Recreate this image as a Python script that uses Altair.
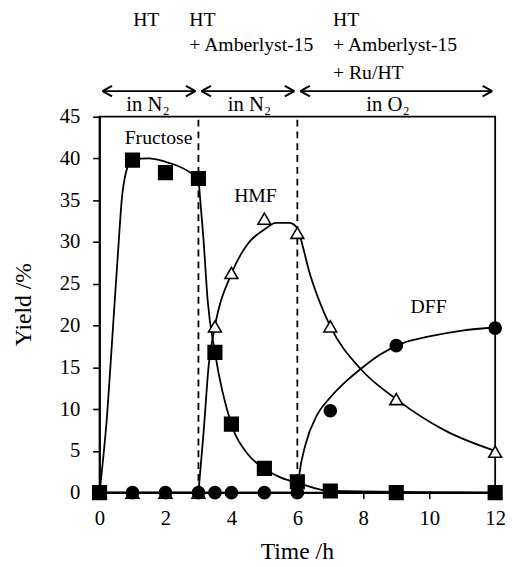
import altair as alt
import pandas as pd

FONT = "Liberation Serif"

# ---- measured points ----
time_h = [0, 1, 2, 3, 3.5, 4, 5, 6, 7, 9, 12]
fructose = [0, 39.8, 38.3, 37.6, 16.8, 8.2, 2.9, 1.3, 0.2, 0, 0]
hmf = [0, 0, 0, 0, 19.9, 26.3, 32.8, 31.1, 19.9, 11.2, 4.9]
dff = [0, 0, 0, 0, 0, 0, 0, 0, 9.8, 17.6, 19.7]

# ---- fitted curves as drawn ----
fru_a_t = [0, 0.23, 0.41, 0.58, 0.67, 0.8, 1.0, 1.5, 2.0, 2.5, 3.0]
fru_a_y = [0, 9.3, 19.9, 29.9, 34.9, 38.3, 39.9, 40.0, 39.6, 38.9, 37.7]
fru_b_t = [3.0, 3.15, 3.28, 3.5, 4.0, 4.5, 5.0, 5.5, 6.0, 7.0, 12.0]
fru_b_y = [37.7, 30.5, 23.0, 16.8, 8.2, 4.6, 2.9, 1.8, 1.2, 0.2, 0]
hmf_a_t = [0, 3]
hmf_a_y = [0, 0]
hmf_b_t = [3, 3.16, 3.31, 3.5, 4, 4.5, 5, 5.35, 5.75, 6, 6.15, 6.35, 6.65, 7, 7.92, 9, 10.5, 12]
hmf_b_y = [0, 7.4, 15.2, 19.9, 26.2, 29.8, 31.5, 32.3, 32.3, 31.7, 29.7, 26.6, 23.1, 19.9, 14.8, 11.2, 7.4, 5.0]
dff_a_t = [0, 6]
dff_a_y = [0, 0]
dff_b_t = [6, 6.05, 6.25, 6.6, 7, 7.5, 7.92, 8.5, 9.2, 10, 11, 12]
dff_b_y = [0, 1.9, 5.8, 9.3, 11.4, 13.4, 14.8, 16.5, 17.9, 18.7, 19.4, 19.8]

# ---- phases ----
phase_start = [0, 3, 6]
phase_end = [3, 6, 12]
phase_gas = ["in N₂", "in N₂", "in O₂"]
phase_gas_x = [1.47, 4.55, 8.75]
dashed_x = [3, 6]
x_tick_values = list(range(0, 13))
y_tick_values = list(range(0, 50, 5))

# ---- tables ----
pts = pd.concat([
    pd.DataFrame({"t": time_h, "y": hmf, "s": "HMF"}),
    pd.DataFrame({"t": time_h, "y": dff, "s": "DFF"}),
    pd.DataFrame({"t": time_h, "y": fructose, "s": "Fructose"}),
], ignore_index=True)
pts["o"] = range(len(pts))

curves = pd.concat([
    pd.DataFrame({"t": fru_a_t, "y": fru_a_y, "seg": "fa"}),
    pd.DataFrame({"t": fru_b_t, "y": fru_b_y, "seg": "fb"}),
    pd.DataFrame({"t": hmf_a_t, "y": hmf_a_y, "seg": "ha"}),
    pd.DataFrame({"t": hmf_b_t, "y": hmf_b_y, "seg": "hb"}),
    pd.DataFrame({"t": dff_a_t, "y": dff_a_y, "seg": "da"}),
    pd.DataFrame({"t": dff_b_t, "y": dff_b_y, "seg": "db"}),
], ignore_index=True)

phases = pd.DataFrame({"start": phase_start, "end": phase_end,
                       "gas": phase_gas, "gx": phase_gas_x})
dashes = pd.DataFrame({"t": dashed_x})
one = pd.DataFrame({"k": [0]})

xscale = alt.Scale(domain=[0, 12], nice=False)
yscale = alt.Scale(domain=[0, 45], nice=False)

X = alt.X("t:Q", scale=xscale, axis=alt.Axis(
    values=x_tick_values, title=None, labelExpr="datum.value % 2 == 0 ? datum.label : ''",
    tickSize=6, labelPadding=9, labelFlush=False, labelOverlap=False, labelFontSize=21))
Y = alt.Y("y:Q", scale=yscale, axis=alt.Axis(
    values=y_tick_values, title=None, tickSize=7, labelPadding=13,
    labelFontSize=21, labelFlush=False))

lines = alt.Chart(curves).mark_line(color="black", strokeWidth=1.8, interpolate="monotone").encode(
    x=X, y=Y, detail="seg:N", order="t:Q")

dash = alt.Chart(dashes).mark_rule(color="black", strokeWidth=1.8, strokeDash=[7, 5]).encode(
    x=alt.X("t:Q", scale=xscale), y=alt.datum(0), y2=alt.datum(45))

points = alt.Chart(pts).mark_point(filled=False, opacity=1, strokeWidth=1.6, stroke="black").encode(
    x=alt.X("t:Q", scale=xscale), y=alt.Y("y:Q", scale=yscale),
    shape=alt.Shape("s:N", scale=alt.Scale(domain=["Fructose", "HMF", "DFF"],
                                           range=["square", "triangle-up", "circle"]), legend=None),
    fill=alt.Fill("s:N", scale=alt.Scale(domain=["Fructose", "HMF", "DFF"],
                                         range=["black", "white", "black"]), legend=None),
    size=alt.Size("s:N", scale=alt.Scale(domain=["Fructose", "HMF", "DFF"],
                                         range=[190, 150, 160]), legend=None),
    order="o:Q")

arrow_y = -26
arrows = alt.Chart(phases).mark_rule(color="black", strokeWidth=2, xOffset=3, x2Offset=-3).encode(
    x=alt.X("start:Q", scale=xscale), x2="end:Q", y=alt.value(arrow_y))
head_l = alt.Chart(phases).mark_point(shape="M0,0L1,-0.55M0,0L1,0.55", filled=False, size=380,
                                      strokeWidth=2, color="black", opacity=1, xOffset=3).encode(
    x=alt.X("start:Q", scale=xscale), y=alt.value(arrow_y))
head_r = alt.Chart(phases).mark_point(shape="M0,0L-1,-0.55M0,0L-1,0.55", filled=False, size=380,
                                      strokeWidth=2, color="black", opacity=1, xOffset=-3).encode(
    x=alt.X("end:Q", scale=xscale), y=alt.value(arrow_y))
gas = alt.Chart(phases).mark_text(font=FONT, fontSize=21, color="black", baseline="alphabetic").encode(
    x=alt.X("gx:Q", scale=xscale), y=alt.value(-6), text="gas:N")


def txt(s, x, ypix, align="left", size=20):
    return alt.Chart(one).mark_text(font=FONT, fontSize=size, color="black",
                                    align=align, baseline="alphabetic").encode(
        x=alt.datum(x, scale=xscale), y=alt.value(ypix), text=alt.value(s))


def lab(s, x, y):
    return alt.Chart(one).mark_text(font=FONT, fontSize=20, color="black",
                                    align="center", baseline="alphabetic").encode(
        x=alt.datum(x, scale=xscale), y=alt.datum(y, scale=yscale), text=alt.value(s))


top = [
    txt("HT", 1.02, -92), txt("HT", 2.72, -92), txt("+ Amberlyst-15", 2.72, -67),
    txt("HT", 7.08, -92), txt("+ Amberlyst-15", 7.08, -67), txt("+ Ru/HT", 7.08, -38),
]
labels = [lab("Fructose", 1.79, 41.7), lab("HMF", 4.73, 34.8), lab("DFF", 9.98, 21.5)]

x_title = alt.Chart(one).mark_text(font=FONT, fontSize=24, color="black", align="center",
                                   baseline="alphabetic", fontWeight="normal").encode(
    x=alt.datum(6, scale=xscale), y=alt.value(449), text=alt.value("Time /h"))
y_title = alt.Chart(one).mark_text(font=FONT, fontSize=24, color="black", align="center",
                                   baseline="alphabetic", angle=270, fontWeight="normal").encode(
    x=alt.value(-70), y=alt.datum(22.5, scale=yscale), text=alt.value("Yield /%"))

chart = alt.layer(lines, dash, points, arrows, head_l, head_r, gas, *top, *labels,
                  x_title, y_title).properties(
    width=402, height=382,
    autosize=alt.AutoSizeParams(type="none"),
    padding={"left": 93, "top": 106, "right": 10, "bottom": 67},
).configure_view(stroke="black", strokeWidth=1.8).configure_axis(
    domainColor="black", domainWidth=1.8, tickColor="black", tickWidth=1.6,
    labelColor="black", labelFont=FONT, grid=False)

chart.save("out.html", embed_options={"renderer": "svg", "actions": False})
